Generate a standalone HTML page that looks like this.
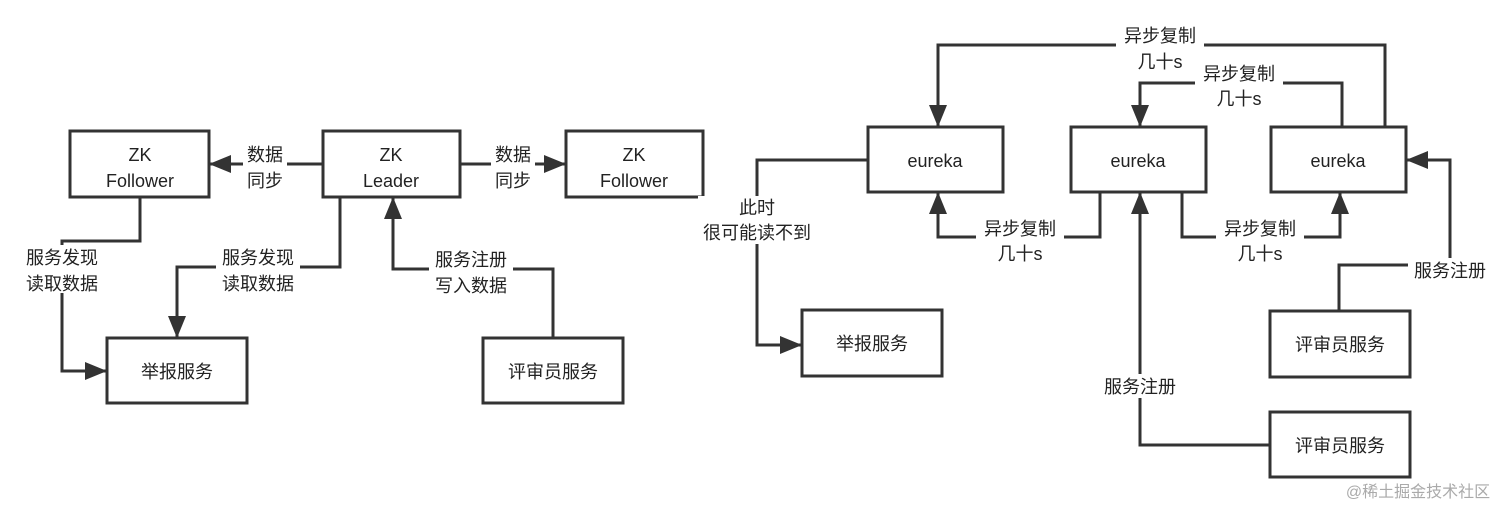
<!DOCTYPE html>
<html><head><meta charset="utf-8"><style>
body{margin:0;background:#fff;}
svg text{font-family:"Liberation Sans","Noto Sans CJK SC",sans-serif;font-size:18px;fill:#222;text-anchor:middle;}
</style></head><body>
<svg width="1512" height="515" viewBox="0 0 1512 515" xmlns="http://www.w3.org/2000/svg">
<defs>
<marker id="b" markerWidth="22" markerHeight="18" refX="22" refY="9" orient="auto" markerUnits="userSpaceOnUse"><path d="M0,0L22,9L0,18z" fill="#333"/></marker></defs>
<g fill="none" stroke="#333" stroke-width="3">
<rect x="70" y="131" width="139" height="66"/><rect x="323" y="131" width="137" height="66"/><rect x="566" y="131" width="137" height="66"/>
<rect x="107" y="338" width="140" height="65"/><rect x="483" y="338" width="140" height="65"/>
<rect x="868" y="127" width="135" height="65"/><rect x="1071" y="127" width="135" height="65"/><rect x="1271" y="127" width="135" height="65"/>
<rect x="802" y="310" width="140" height="66"/><rect x="1270" y="311" width="140" height="66"/><rect x="1270" y="412" width="140" height="65"/>
<path d="M323,164H209" marker-end="url(#b)"/><path d="M460,164H566" marker-end="url(#b)"/>
<path d="M140,197V241H62V371H107" marker-end="url(#b)"/>
<path d="M340,197V267H177V338" marker-end="url(#b)"/>
<path d="M553,338V269H393V197" marker-end="url(#b)"/>
<path d="M1385,127V45H938V127" marker-end="url(#b)"/>
<path d="M1342,127V83H1140V127" marker-end="url(#b)"/>
<path d="M868,160H757V345H802" marker-end="url(#b)"/>
<path d="M1100,192V237H938V192" marker-end="url(#b)"/>
<path d="M1182,192V237H1340V192" marker-end="url(#b)"/>
<path d="M1270,445H1140V192" marker-end="url(#b)"/>
<path d="M1339,311V265H1450V160H1406" marker-end="url(#b)"/>
</g>
<g fill="#fff">
<rect x="243" y="143" width="44" height="44"/><rect x="491" y="143" width="44" height="44"/>
<rect x="20" y="245" width="84" height="48"/><rect x="216" y="245" width="84" height="48"/><rect x="429" y="247" width="84" height="48"/>
<rect x="1116" y="22" width="88" height="50"/><rect x="1195" y="60" width="88" height="48"/>
<rect x="698" y="196" width="118" height="48"/>
<rect x="976" y="216" width="88" height="48"/><rect x="1216" y="216" width="88" height="48"/>
<rect x="1098" y="374" width="84" height="24"/><rect x="1408" y="258" width="84" height="24"/>
</g>
<text x="140" y="161">ZK</text><text x="140" y="187">Follower</text>
<text x="391" y="161">ZK</text><text x="391" y="187">Leader</text>
<text x="634" y="161">ZK</text><text x="634" y="187">Follower</text>
<text x="265" y="161">数据</text><text x="265" y="187">同步</text>
<text x="513" y="161">数据</text><text x="513" y="187">同步</text>
<text x="62" y="264">服务发现</text><text x="62" y="290">读取数据</text>
<text x="258" y="264">服务发现</text><text x="258" y="290">读取数据</text>
<text x="471" y="266">服务注册</text><text x="471" y="292">写入数据</text>
<text x="177" y="378">举报服务</text><text x="553" y="378">评审员服务</text>
<text x="935" y="167">eureka</text><text x="1138" y="167">eureka</text><text x="1338" y="167">eureka</text>
<text x="1160" y="42">异步复制</text><text x="1160" y="68">几十s</text>
<text x="1239" y="80">异步复制</text><text x="1239" y="105">几十s</text>
<text x="757" y="214">此时</text><text x="757" y="239">很可能读不到</text>
<text x="1020" y="235">异步复制</text><text x="1020" y="260">几十s</text>
<text x="1260" y="235">异步复制</text><text x="1260" y="260">几十s</text>
<text x="1140" y="393">服务注册</text><text x="1450" y="277">服务注册</text>
<text x="872" y="350">举报服务</text><text x="1340" y="351">评审员服务</text><text x="1340" y="452">评审员服务</text>
<text x="1418" y="497" style="fill:#aaa;font-size:16px">@稀土掘金技术社区</text>
</svg>
</body></html>
